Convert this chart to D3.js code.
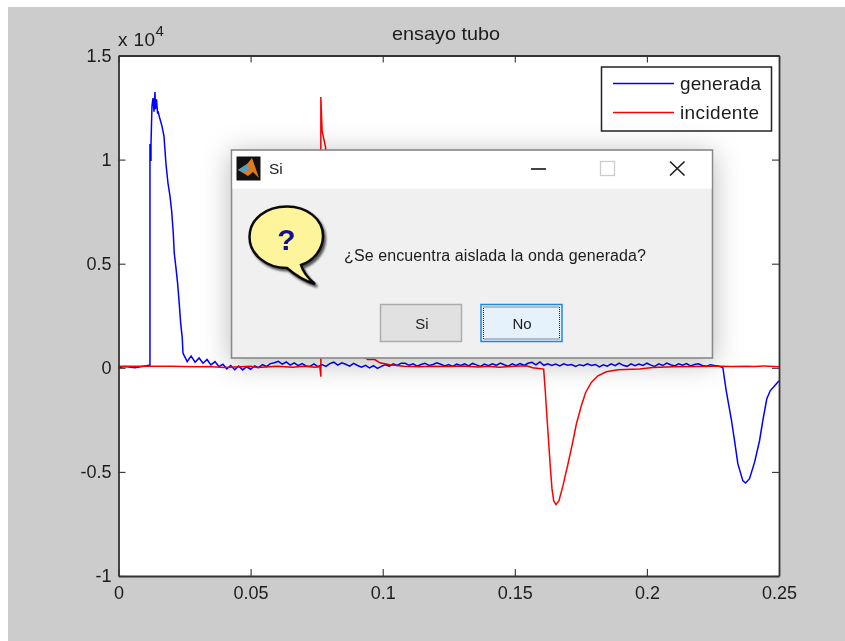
<!DOCTYPE html>
<html><head><meta charset="utf-8">
<script src="https://cdn.jsdelivr.net/npm/d3@7"></script>
<style>
html,body{margin:0;padding:0;background:#fff;}
svg{display:block;filter:blur(0.3px);}
text{font-family:"Liberation Sans",Arial,sans-serif;fill:#1c1c1c;}
</style></head><body><svg id="c" width="845" height="641"></svg>
<script>
const chartTitle = "ensayo tubo";
const seriesNames = ["generada", "incidente"];
const seriesColors = ["#0000ff", "#ff0000"];
const xTicks = [0, 0.05, 0.1, 0.15, 0.2, 0.25];
const xTickLabels = ["0", "0.05", "0.1", "0.15", "0.2", "0.25"];
const yTicks = [-10000, -5000, 0, 5000, 10000, 15000];
const yTickLabels = ["-1", "-0.5", "0", "0.5", "1", "1.5"];

const generadaT = [0,.00246,.00624,.01154,.01191,.01191,.0123,.0123,.01267,.01305,.01343,.0138,.0140,.0144,.0148,.01494,.0157,.01645,.01721,.01797,.01872,.01948,.02012,.02073,.0211,.02175,.02239,.023,.02352,.02413,.0244,
.0245,.026,.0275,.029,.0305,.032,.0335,.035,.0365,.038,.0395,.041,.0425,.044,.0455,.047,.0485,.05,.0515,.053,.0545,.056,.0575,.059,.0605,.062,.0635,.065,.0665,.068,.0695,.071,.0725,.074,.0755,.077,.0785,.08,.0815,.083,.0845,.086,.0875,.089,.0905,.092,.0935,.095,.0965,.098,.0995,.101,.1025,.104,.1055,.107,.1085,.11,.1115,.113,.1145,.116,.1175,.119,.1205,.122,.1235,.125,.1265,.128,.1295,.131,.1325,.134,.1355,.137,.1385,.14,.1415,.143,.1445,.146,.1475,.149,.1505,.152,.1535,.155,.1565,.158,.1595,.161,.1625,.164,.1655,.167,.1685,.17,.1715,.173,.1745,.176,.1775,.179,.1805,.182,.1835,.185,.1865,.188,.1895,.191,.1925,.194,.1955,.197,.1985,.2,.2015,.203,.2045,.206,.2075,.209,.2105,.212,.2135,.215,.2165,.218,.2195,.221,.2225,.224,.2255,.227,.22874,
.23003,.23192,.23317,.23442,.2363,.23733,.23884,.24074,.24263,.24387,.24539,.24667,.25];
const generadaV = [10,60,0,120,120,10748,9932,10748,12571,12955,12300,13242,12427,12900,12200,12331,11947,11611,11131,9788,8876,8253,7533,6477,5518,4798,4030,3071,2159,1439,720,
680,300,560,270,470,220,400,140,300,60,170,-50,110,-90,90,-100,50,-70,90,10,150,60,200,240,310,180,280,130,240,100,200,90,70,190,50,150,70,200,270,130,240,170,80,210,110,30,120,0,100,-30,70,150,80,190,110,220,220,120,190,80,160,220,110,160,240,170,90,160,70,180,110,190,90,210,140,70,180,100,190,120,230,150,80,190,110,200,120,220,260,140,280,120,190,110,180,90,190,120,160,70,150,100,190,110,160,40,140,80,190,100,230,120,70,190,100,180,110,220,130,70,190,110,230,150,90,190,120,200,90,160,190,110,70,150,110,90,14,
-1104,-2447,-3503,-4606,-5422,-5532,-5326,-4544,-3503,-2543,-1487,-1104,-624];

const incidenteT = [0,.02,.03,.034,.04,.05,.0525,.06,.066,.07,.0745,.0762,.07659,.07659,.07708,.07837,.079,.082,.086,.09,.09436,.09701,.0989,.10268,.108,.114,.118,.125,.13,.136,.14,.144,.15,.15439,.15677,.16093,.16157,.16218,.16282,.16346,.16407,.16471,.16558,.16672,.16823,.17012,.17179,.1733,.17519,.17682,.17897,.18147,.18465,.18903,.19724,.20216,.21,.218,.225,.2285,.2315,.238,.2405,.2445,.25];
const incidenteV = [70,70,55,60,10,70,15,75,30,70,25,70,-432,13003,11371,10604,9000,5000,2000,800,400,398,240,144,70,50,80,60,90,40,70,30,70,96,0,-62,-1185,-2385,-3584,-4784,-5806,-6381,-6573,-6381,-5662,-4620,-3661,-2701,-1823,-1185,-705,-384,-192,-96,-62,14,50,60,70,75,60,80,65,90,50];

const W = 845, H = 641;
const svg = d3.select("#c");
svg.append("rect").attr("x",8).attr("y",7).attr("width",W-8).attr("height",H-7).attr("fill","#cccccc");

const m = {l:118.5, r:779, t:55.5, b:576};
const x = d3.scaleLinear().domain([0,0.25]).range([m.l,m.r]);
const y = d3.scaleLinear().domain([-10000,15000]).range([m.b,m.t]);
svg.append("rect").attr("x",m.l).attr("y",m.t).attr("width",m.r-m.l).attr("height",m.b-m.t).attr("fill","#fff");

const defs = svg.append("defs");
defs.append("filter").attr("id","sh").attr("x","-20%").attr("y","-30%").attr("width","140%").attr("height","160%")
  .append("feDropShadow").attr("dx",0).attr("dy",4).attr("stdDeviation",14).attr("flood-color","#000").attr("flood-opacity",0.28);
defs.append("filter").attr("id","soft").append("feGaussianBlur").attr("stdDeviation",1.2);

defs.append("clipPath").attr("id","plot").append("rect").attr("x",m.l).attr("y",m.t).attr("width",m.r-m.l).attr("height",m.b-m.t);
const line = d3.line().x(d=>x(d[0])).y(d=>y(d[1]));
const plot = svg.append("g").attr("clip-path","url(#plot)");
plot.append("path").attr("d",line(d3.zip(generadaT,generadaV))).attr("fill","none").attr("stroke",seriesColors[0]).attr("stroke-width",1.5);
plot.append("path").attr("d",line(d3.zip(incidenteT,incidenteV))).attr("fill","none").attr("stroke",seriesColors[1]).attr("stroke-width",1.5);

function styleAxis(g){g.selectAll("path").attr("stroke","#333").attr("stroke-width",1.8);
  g.selectAll("line").attr("stroke","#333").attr("stroke-width",1.1);
  g.selectAll("text").attr("font-size",18).attr("fill","#1c1c1c").style("font-family",'"Liberation Sans",Arial,sans-serif');}
const fx = (d,i)=>xTickLabels[i], fy=(d,i)=>yTickLabels[i];
svg.append("g").attr("transform",`translate(0,${m.b})`).call(d3.axisBottom(x).tickValues(xTicks).tickFormat(fx).tickSizeInner(-7).tickSizeOuter(0).tickPadding(10.5)).call(styleAxis);
svg.append("g").attr("transform",`translate(0,${m.t})`).call(d3.axisTop(x).tickValues(xTicks).tickFormat("").tickSizeInner(-7).tickSizeOuter(0)).call(styleAxis);
svg.append("g").attr("transform",`translate(${m.l},0)`).call(d3.axisLeft(y).tickValues(yTicks).tickFormat(fy).tickSizeInner(-7).tickSizeOuter(0).tickPadding(7)).call(styleAxis);
svg.append("g").attr("transform",`translate(${m.r},0)`).call(d3.axisRight(y).tickValues(yTicks).tickFormat("").tickSizeInner(-7).tickSizeOuter(0)).call(styleAxis);

svg.append("text").attr("x",392).attr("y",40).attr("font-size",19).attr("textLength",108).attr("lengthAdjust","spacingAndGlyphs").text(chartTitle);
svg.append("text").attr("x",118).attr("y",46).attr("font-size",19).attr("textLength",37).attr("lengthAdjust","spacing").text("x 10");
svg.append("text").attr("x",155.5).attr("y",36).attr("font-size",15).text("4");

// legend
const lg = svg.append("g");
lg.append("rect").attr("x",601.5).attr("y",67).attr("width",170).attr("height",64).attr("fill","#fff").attr("stroke","#222").attr("stroke-width",1.5);
const legendWidths = [81, 79];
seriesNames.forEach((n,i)=>{
  const ly=[83.5,112.5][i];
  lg.append("line").attr("x1",613).attr("x2",674).attr("y1",ly).attr("y2",ly).attr("stroke",seriesColors[i]).attr("stroke-width",1.5);
  lg.append("text").attr("x",680).attr("y",ly+6.5).attr("font-size",19).attr("textLength",legendWidths[i]).attr("lengthAdjust","spacing").text(n);
});

// dialog window
const dlg = svg.append("g");
dlg.append("rect").attr("x",231.5).attr("y",150).attr("width",481).attr("height",208).attr("fill","#f0f0f0").attr("stroke","#888").attr("stroke-width",1.6).attr("filter","url(#sh)");
dlg.append("rect").attr("x",232.5).attr("y",151).attr("width",479).attr("height",37.5).attr("fill","#fff");
// app icon
dlg.append("rect").attr("x",236.5).attr("y",156.5).attr("width",24).attr("height",24).attr("fill","#111");
dlg.append("path").attr("d","M238 170 L247 164 L252 158 L259 178 L253 172 L248 176 Z").attr("fill","#e07a1f");
dlg.append("path").attr("d","M238 170 L247 164 L249 170 L243 172 Z").attr("fill","#4aa3c8");
dlg.append("text").attr("x",269).attr("y",173.5).attr("font-size",15.5).text("Si");
// window buttons
dlg.append("line").attr("x1",531).attr("x2",546).attr("y1",169).attr("y2",169).attr("stroke","#222").attr("stroke-width",1.7);
dlg.append("rect").attr("x",600.5).attr("y",161.5).attr("width",14).attr("height",14).attr("fill","#fff").attr("stroke","#ccc").attr("stroke-width",1.3);
dlg.append("path").attr("d","M670 161.5 L684.5 175.5 M684.5 161.5 L670 175.5").attr("stroke","#222").attr("stroke-width",1.7);
// question icon
const bubble = "M287 206.5 C307 206.5 323 219 323 236 C323 250 313 261 301 265 C303 272 309 279 315 284 C305 281 295 275 287 268 C266 268 249.5 254 249.5 237 C249.5 219 266 206.5 287 206.5 Z";
dlg.append("path").attr("d",bubble).attr("transform","translate(2,2.5)").attr("fill","#555").attr("stroke","#555").attr("stroke-width",2.5).attr("filter","url(#soft)");
dlg.append("path").attr("d",bubble).attr("fill","#fdf49c").attr("stroke","#0a0a0a").attr("stroke-width",2.5);
dlg.append("text").attr("x",286.5).attr("y",250).attr("text-anchor","middle").attr("font-size",30).attr("font-weight","bold").style("fill","#101090").text("?");
// message
dlg.append("text").attr("x",344).attr("y",261).attr("font-size",16).attr("textLength",302).attr("lengthAdjust","spacing").text("¿Se encuentra aislada la onda generada?");
// buttons
dlg.append("rect").attr("x",380.5).attr("y",304.5).attr("width",81).attr("height",37).attr("fill","#e1e1e1").attr("stroke","#adadad").attr("stroke-width",1.5);
dlg.append("text").attr("x",422).attr("y",329).attr("text-anchor","middle").attr("font-size",15).text("Si");
dlg.append("rect").attr("x",481).attr("y",304.5).attr("width",81).attr("height",37).attr("fill","#e5f1fb").attr("stroke","#1e88e0").attr("stroke-width",1.5);
dlg.append("rect").attr("x",483.5).attr("y",307).attr("width",76).attr("height",32).attr("fill","none").attr("stroke","#222").attr("stroke-width",1).attr("stroke-dasharray","1 1");
dlg.append("text").attr("x",522).attr("y",329).attr("text-anchor","middle").attr("font-size",15).text("No");
</script></body></html>
